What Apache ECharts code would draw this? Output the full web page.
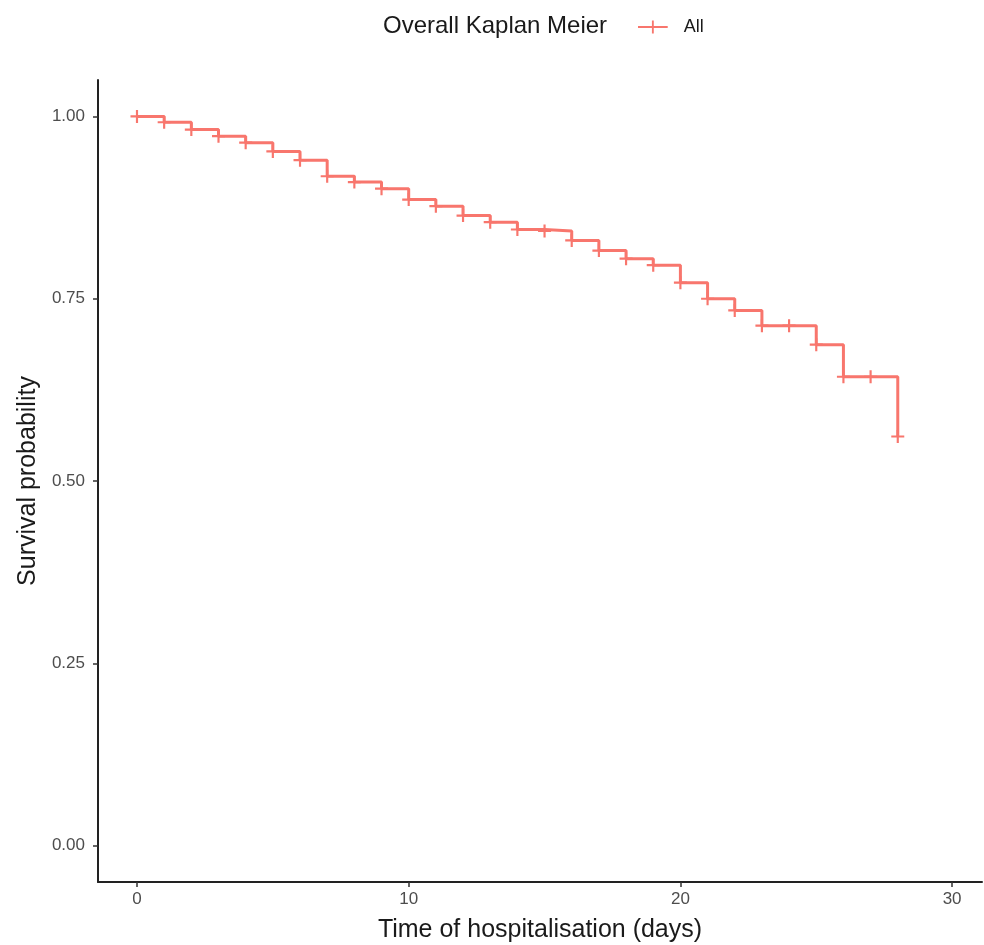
<!DOCTYPE html>
<html>
<head>
<meta charset="utf-8">
<script src="https://cdn.jsdelivr.net/npm/echarts@6/dist/echarts.min.js"></script>
<style>
  html, body { margin: 0; padding: 0; background: #fff; }
  #main { width: 984px; height: 945px; }
</style>
</head>
<body>
<div id="main"></div>
<script>
// days and survival probability
var days = [0, 1, 2, 3, 4, 5, 6, 7, 8, 9, 10, 11, 12, 13, 14, 15, 16, 17, 18, 19, 20, 21, 22, 23, 24, 25, 26, 27, 28];
var survival = [1.000, 0.992, 0.982, 0.973, 0.964, 0.952, 0.940, 0.918, 0.910, 0.901, 0.886, 0.877, 0.864, 0.855, 0.845, 0.843, 0.830, 0.816, 0.805, 0.796, 0.772, 0.750, 0.734, 0.713, 0.713, 0.687, 0.643, 0.643, 0.561];
var xTicks = [0, 10, 20, 30];
var yTicks = [0, 0.25, 0.5, 0.75, 1.0];

var red = '#F8766D';
var plusPath = 'path://M5,0H7V5H12V7H7V12H5V7H0V5H5Z';
var font = 'Liberation Sans';

var chart = echarts.init(document.getElementById('main'));

var pts = days.map(function (d, i) { return [d, survival[i]]; });

var option = {
    backgroundColor: '#fff',
    animation: false,
    textStyle: { fontFamily: font },
    graphic: [{
        type: 'text',
        left: 383,
        top: 14,
        style: {
            text: 'Overall Kaplan Meier',
            fontSize: 24,
            fontFamily: font,
            fill: '#1a1a1a'
        }
    }],
    legend: {
        data: ['All'],
        left: 633,
        top: 13,
        itemWidth: 32,
        itemHeight: 13,
        icon: 'path://M0,6H32V8H0Z M15,0H17V14H15Z',
        formatter: function (n) { return '  ' + n; },
        textStyle: { fontSize: 18, color: '#1a1a1a', fontFamily: font }
    },
    grid: {
        left: 98,
        right: 2,
        top: 80,
        bottom: 63,
        containLabel: false,
        outerBoundsMode: 'none'
    },
    xAxis: {
        type: 'value',
        min: -1.435,
        max: 31.1,
        name: 'Time of hospitalisation (days)',
        nameLocation: 'middle',
        nameGap: 36,
        nameTextStyle: { fontSize: 25, color: '#1a1a1a', fontFamily: font },
        axisLine: { show: true, onZero: false, lineStyle: { color: '#222', width: 2 } },
        axisTick: { show: true, length: 5, lineStyle: { color: '#333', width: 1.5 }, customValues: xTicks },
        axisLabel: { fontSize: 17, color: '#4d4d4d', margin: 9, customValues: xTicks },
        splitLine: { show: false }
    },
    yAxis: {
        type: 'value',
        min: -0.05,
        max: 1.05,
        name: 'Survival probability',
        nameLocation: 'middle',
        nameGap: 54,
        nameTextStyle: { fontSize: 25, color: '#1a1a1a', fontFamily: font },
        axisLine: { show: true, onZero: false, lineStyle: { color: '#222', width: 2 } },
        axisTick: { show: true, length: 5, lineStyle: { color: '#333', width: 1.5 }, customValues: yTicks },
        axisLabel: {
            fontSize: 17,
            color: '#4d4d4d',
            margin: 13,
            customValues: yTicks,
            formatter: function (v) { return v.toFixed(2); }
        },
        splitLine: { show: false }
    },
    series: [
        {
            name: 'All',
            type: 'line',
            step: 'end',
            data: pts,
            showSymbol: false,
            symbol: plusPath,
            lineStyle: { color: red, width: 3 },
            itemStyle: { color: red }
        },
        {
            name: 'censor',
            type: 'scatter',
            data: pts,
            symbol: plusPath,
            symbolSize: 13,
            itemStyle: { color: red, opacity: 1 },
            z: 3
        }
    ]
};

chart.setOption(option);
</script>
</body>
</html>
